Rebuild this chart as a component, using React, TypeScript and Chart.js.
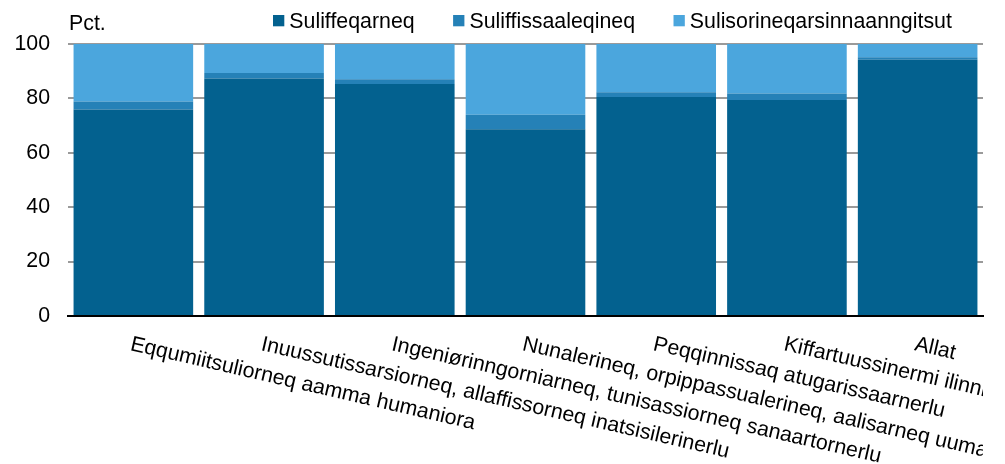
import React, { useEffect, useRef } from "react";
import { Chart, registerables } from "chart.js";

Chart.register(...registerables);

const categories: string[] = [
  "Eqqumiitsuliorneq aamma humaniora",
  "Inuussutissarsiorneq, allaffissorneq inatsisilerinerlu",
  "Ingeniørinngorniarneq, tunisassiorneq sanaartornerlu",
  "Nunalerineq, orpippassualerineq, aalisarneq uumasunillu nakorsaaneq",
  "Peqqinnissaq atugarissaarnerlu",
  "Kiffartuussinermi ilinniarnerit",
  "Allat",
];

const seriesNames: string[] = ["Suliffeqarneq", "Suliffissaaleqineq", "Sulisorineqarsinnaanngitsut"];

const employed: number[] = [75.9, 87.3, 85.3, 68.7, 80.5, 79.4, 94.2];
const unemployed: number[] = [3.0, 2.0, 1.7, 5.3, 1.8, 2.4, 0.9];
const outside: number[] = [21.1, 10.7, 13.0, 26.0, 17.7, 18.2, 4.9];

const yTicks: number[] = [0, 20, 40, 60, 80, 100];
const yUnit = "Pct.";

const colors = ["#03618f", "#2581b7", "#4ba6dd"];
const FONT = '21.33px "Liberation Sans", Arial, sans-serif';

const customText = {
  id: "customText",
  afterDraw(chart: any) {
    const ctx = chart.ctx as CanvasRenderingContext2D;
    const xs = chart.scales.x;
    ctx.save();
    ctx.font = FONT;
    ctx.fillStyle = "#000";
    ctx.textAlign = "left";
    ctx.textBaseline = "alphabetic";
    // unit label
    ctx.fillText(yUnit, 69, 30);
    // legend
    let x = 273;
    chart.data.datasets.forEach((ds: any) => {
      ctx.fillStyle = ds.backgroundColor;
      ctx.fillRect(x, 15, 11.3, 11.3);
      ctx.fillStyle = "#000";
      ctx.fillText(ds.label, x + 16.3, 28);
      x += 16.3 + ctx.measureText(ds.label).width + 38.5;
    });
    // rotated category labels, clipped at the plot's right edge
    ctx.save();
    ctx.beginPath();
    ctx.rect(0, chart.chartArea.bottom, chart.chartArea.right, chart.height - chart.chartArea.bottom);
    ctx.clip();
    const capH = 15.3;
    const ang = (13 * Math.PI) / 180;
    chart.data.labels.forEach((lab: string, i: number) => {
      const px = xs.getPixelForTick(i);
      ctx.save();
      ctx.translate(px - 0.5, 335);
      ctx.rotate(ang);
      ctx.fillText(lab, 0, capH);
      ctx.restore();
    });
    ctx.restore();
    ctx.restore();
  },
};

export default function App() {
  const ref = useRef<HTMLCanvasElement | null>(null);
  useEffect(() => {
    if (!ref.current) return;
    const values = [employed, unemployed, outside];
    const chart = new Chart(ref.current, {
      type: "bar",
      data: {
        labels: categories,
        datasets: seriesNames.map((name, i) => ({
          label: name,
          data: values[i],
          backgroundColor: colors[i],
          borderWidth: 0,
          barPercentage: 0.915,
          categoryPercentage: 1,
        })),
      },
      options: {
        responsive: false,
        animation: false,
        devicePixelRatio: 1,
        layout: { padding: { top: 44, right: 22, left: 0, bottom: 0 } },
        plugins: { legend: { display: false }, tooltip: { enabled: false }, title: { display: false } },
        scales: {
          x: {
            stacked: true,
            grid: { display: false },
            border: { display: true, color: "#000", width: 2 },
            ticks: { display: false },
            afterFit(scale: any) {
              scale.height = 148;
            },
          },
          y: {
            stacked: true,
            min: 0,
            max: 100,
            afterBuildTicks(scale: any) {
              scale.ticks = yTicks.map((v) => ({ value: v }));
            },
            grid: {
              drawTicks: false,
              color: (c: any) => (c.tick && c.tick.value === 0 ? "#000" : "#9a9a9a"),
              lineWidth: 2,
            },
            border: { display: false },
            ticks: {
              padding: 18,
              color: "#000",
              font: { family: '"Liberation Sans", Arial, sans-serif', size: 21.33 },
            },
            afterFit(scale: any) {
              scale.width = 68;
            },
          },
        },
      },
      plugins: [customText],
    });
    return () => chart.destroy();
  }, []);
  return (
    <div style={{ position: "absolute", left: 0, top: 0, width: 1005, height: 464, background: "#fff" }}>
      <canvas ref={ref} width={1005} height={464} style={{ display: "block" }} />
    </div>
  );
}
